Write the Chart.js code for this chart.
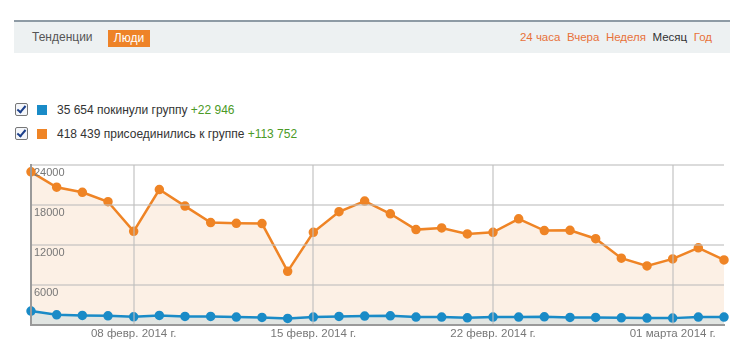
<!DOCTYPE html>
<html><head><meta charset="utf-8">
<script src="https://cdn.jsdelivr.net/npm/chart.js@4"></script>
<style>
html,body{margin:0;padding:0;background:#fff;width:746px;height:357px;overflow:hidden;font-family:"Liberation Sans",Arial,sans-serif;}
#hdr{position:absolute;left:14px;top:20px;width:716px;height:33px;background:#edf1f2;border-top:2px solid #8e9ba5;box-sizing:border-box;}
#hdr .t{position:absolute;left:18px;top:8px;font-size:12px;color:#555;}
#hdr .b{position:absolute;left:94px;top:8px;height:17px;width:42px;background:#ee8328;color:#fff;font-size:12px;line-height:17px;text-align:center;}
#hdr .r{position:absolute;right:18px;top:9px;font-size:11.5px;color:#e8723a;}
#hdr .r span{margin-left:6.5px;}
#hdr .r .cur{color:#333;}
.lg{position:absolute;left:15px;font-size:12px;color:#333;}
.lg .cb{display:inline-block;width:11px;height:11px;border:1px solid #777;border-radius:2px;vertical-align:-2px;position:relative;background:#f4f6fa;}
.lg .cb:after{content:"";position:absolute;left:3px;top:0px;width:3px;height:7px;border:solid #1c3f8a;border-width:0 2px 2px 0;transform:rotate(40deg);}
.lg .sq{display:inline-block;width:10px;height:10px;margin-left:9px;margin-right:10px;vertical-align:-1px;}
.lg .g{color:#4b9a26;}
#wrap{position:absolute;left:0;top:150px;width:746px;height:207px;}
</style></head><body>
<div id="hdr"><span class="t">Тенденции</span><span class="b">Люди</span>
<span class="r"><span>24 часа</span><span>Вчера</span><span>Неделя</span><span class="cur">Месяц</span><span>Год</span></span></div>
<div class="lg" style="top:103px"><span class="cb"></span><span class="sq" style="background:#1a8bc7"></span>35 654 покинули группу <span class="g">+22 946</span></div>
<div class="lg" style="top:127px"><span class="cb"></span><span class="sq" style="background:#ef8425"></span>418 439 присоединились к группе <span class="g">+113 752</span></div>
<div id="wrap"><canvas id="c"></canvas></div>
<script>
const dates = ["04.02","05.02","06.02","07.02","08.02","09.02","10.02","11.02","12.02","13.02","14.02","15.02","16.02","17.02","18.02","19.02","20.02","21.02","22.02","23.02","24.02","25.02","26.02","27.02","28.02","01.03","02.03","03.03"];
const tickLabels = {"08.02":"08 февр. 2014 г.","15.02":"15 февр. 2014 г.","22.02":"22 февр. 2014 г.","01.03":"01 марта 2014 г."};
const joined = [22980,20670,19910,18500,14060,20320,17840,15380,15270,15225,8070,13910,17000,18600,16690,14320,14575,13670,13910,15935,14170,14215,12960,10040,8875,9935,11600,9780];
const left = [2120,1560,1470,1410,1260,1470,1320,1320,1210,1160,1010,1210,1320,1360,1410,1210,1210,1110,1210,1210,1260,1160,1160,1110,1060,1060,1210,1210];
const yTicks = [6000,12000,18000,24000];

new Chart(document.getElementById('c'), {
  type: 'line',
  data: {
    labels: dates,
    datasets: [
      {label:'покинули группу', data:left, borderColor:'#1a8bc7', backgroundColor:'#e1e5e2', pointBackgroundColor:'#1a8bc7', pointBorderColor:'#1a8bc7', borderWidth:2.5, pointRadius:3.5, fill:'origin', tension:0},
      {label:'присоединились к группе', data:joined, borderColor:'#ef8425', backgroundColor:'#fcf0e5', pointBackgroundColor:'#ef8425', pointBorderColor:'#ef8425', borderWidth:2.5, pointRadius:3.5, fill:'origin', tension:0}
    ]
  },
  options: {
    animation:false, responsive:true, maintainAspectRatio:false,
    layout:{padding:{left:25,right:22,top:15,bottom:14}},
    plugins:{legend:{display:false}, tooltip:{enabled:false}},
    clip:false,
    scales:{
      x:{
        offset:false,
        border:{display:true,color:'#9a9a9a',width:2,z:2},
        grid:{z:1, drawTicks:false, color:(ctx)=> (ctx.tick && tickLabels[dates[ctx.index]]) ? 'rgba(190,190,190,0.55)' : 'rgba(0,0,0,0)', lineWidth:2},
        ticks:{autoSkip:false, maxRotation:0, padding:2, color:'#777', font:{family:'"Liberation Sans", Arial, sans-serif', size:11.5},
          callback:(v,i)=> tickLabels[dates[i]] || ''}
      },
      y:{
        min:0, max:24000,
        afterBuildTicks:(ax)=>{ax.ticks=[0].concat(yTicks).map(v=>({value:v}));},
        border:{display:true,color:'#9a9a9a',width:2,z:2},
        grid:{z:1, drawTicks:false,color:'rgba(190,190,190,0.55)',lineWidth:2},
        ticks:{z:2, autoSkip:false, mirror:true, padding:3, labelOffset:8, color:'#777', font:{family:'"Liberation Sans", Arial, sans-serif', size:11},
          callback:(v)=> v===0 ? '' : String(v)}
      }
    }
  }
});
</script>
</body></html>
